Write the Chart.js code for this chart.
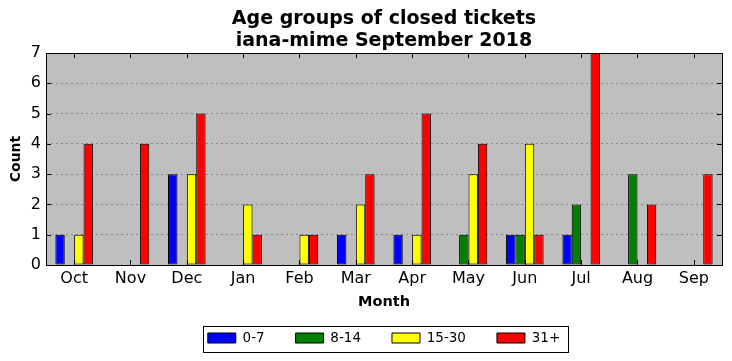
<!DOCTYPE html>
<html>
<head>
<meta charset="utf-8">
<script src="https://cdn.jsdelivr.net/npm/chart.js@4.4.0/dist/chart.umd.min.js"></script>
<style>
  html, body { margin: 0; padding: 0; background: #fff; }
  canvas { display: block; }
</style>
</head>
<body>
<canvas id="ticketChart" width="732" height="361"></canvas>
<script>
(function() {
  'use strict';

  var months = ['Oct', 'Nov', 'Dec', 'Jan', 'Feb', 'Mar', 'Apr', 'May', 'Jun', 'Jul', 'Aug', 'Sep'];
  var ageGroups = ['0-7', '8-14', '15-30', '31+'];
  var groupColours = ['#0000ff', '#008000', '#ffff00', '#ff0000'];

  // closed tickets per month, one list per age group
  var age0to7 = [1, 0, 3, 0, 0, 1, 1, 0, 1, 1, 0, 0];
  var age8to14 = [0, 0, 0, 0, 0, 0, 0, 1, 1, 2, 3, 0];
  var age15to30 = [1, 0, 3, 2, 1, 2, 1, 3, 4, 0, 0, 0];
  var age31plus = [4, 4, 5, 1, 1, 3, 5, 4, 1, 7, 2, 3];
  var countMax = 7;

  var font = 'DejaVu Sans';

  // matplotlib look: grey axes, inward ticks on all sides, boxed legend
  var mplFrame = {
    id: 'mplFrame',
    beforeDraw: function(chart) {
      var ctx = chart.ctx, a = chart.chartArea;
      ctx.save();
      ctx.fillStyle = '#ffffff';
      ctx.fillRect(0, 0, chart.width, chart.height);
      ctx.fillStyle = '#bfbfbf';
      ctx.fillRect(a.left, a.top, a.right - a.left, a.bottom - a.top);
      ctx.restore();
    },
    afterDatasetsDraw: function(chart) {
      var ctx = chart.ctx, a = chart.chartArea;
      var xs = chart.scales.x, ys = chart.scales.y;
      ctx.save();
      ctx.strokeStyle = '#000';
      ctx.lineWidth = 1;
      ctx.beginPath();
      xs.ticks.forEach(function(t, i) {
        var x = Math.round(xs.getPixelForTick(i)) + 0.5;
        ctx.moveTo(x, a.bottom); ctx.lineTo(x, a.bottom - 5);
        ctx.moveTo(x, a.top); ctx.lineTo(x, a.top + 5);
      });
      ys.ticks.forEach(function(t, i) {
        var y = Math.round(ys.getPixelForTick(i)) + 0.5;
        ctx.moveTo(a.left, y); ctx.lineTo(a.left + 5, y);
        ctx.moveTo(a.right, y); ctx.lineTo(a.right - 5, y);
      });
      ctx.stroke();
      ctx.strokeRect(Math.round(a.left) + 0.5, Math.round(a.top) + 0.5,
        Math.round(a.right - a.left), Math.round(a.bottom - a.top));
      ctx.restore();
    },
    afterDraw: function(chart) {
      var boxes = chart.legend.legendHitBoxes;
      if (!boxes || !boxes.length) return;
      var first = boxes[0], last = boxes[boxes.length - 1];
      var mid = first.top + first.height / 2;
      var ctx = chart.ctx;
      ctx.save();
      ctx.strokeStyle = '#000';
      ctx.lineWidth = 1;
      ctx.strokeRect(Math.round(first.left - 5) + 0.5, Math.round(mid - 12) + 0.5,
        Math.round(last.left + last.width + 8 - (first.left - 5)), 26);
      ctx.restore();
    }
  };

  var seriesValues = [age0to7, age8to14, age15to30, age31plus];
  var datasets = ageGroups.map(function(name, i) {
    return {
      label: name,
      data: seriesValues[i],
      backgroundColor: groupColours[i],
      borderColor: '#000000',
      borderWidth: 1,
      borderSkipped: false,
      barPercentage: 1.0,
      categoryPercentage: 0.667
    };
  });

  var ctx = document.getElementById('ticketChart');
  new Chart(ctx, {
    type: 'bar',
    data: { labels: months, datasets: datasets },
    plugins: [mplFrame],
    options: {
      responsive: false,
      animation: false,
      layout: { padding: { left: 4, right: 10, top: 0, bottom: 6.25 } },
      plugins: {
        tooltip: { enabled: false },
        title: {
          display: true,
          fullSize: false,
          text: ['Age groups of closed tickets', 'iana-mime September 2018'],
          color: '#000',
          font: { family: font, size: 19, weight: 'bold', lineHeight: 22 / 19 },
          padding: { top: 8, bottom: 1 }
        },
        legend: {
          display: true,
          position: 'bottom',
          fullSize: false,
          labels: {
            color: '#000',
            font: { family: font, size: 13.5 },
            boxWidth: 28,
            boxHeight: 10,
            padding: 31
          }
        }
      },
      scales: {
        x: {
          grid: { display: false, drawTicks: false },
          border: { display: false },
          ticks: { color: '#000', font: { family: font, size: 16 }, padding: 4 },
          title: {
            display: true,
            text: 'Month',
            color: '#000',
            font: { family: font, size: 14.5, weight: 'bold' },
            padding: { top: 1.6, bottom: -10.95 }
          }
        },
        y: {
          min: 0,
          max: countMax,
          grid: { color: '#888888', borderDash: [2, 3], drawTicks: false },
          border: { display: false, dash: [2, 3] },
          ticks: { stepSize: 1, color: '#000', font: { family: font, size: 16 }, padding: 5 },
          title: {
            display: true,
            text: 'Count',
            color: '#000',
            font: { family: font, size: 14, weight: 'bold' },
            padding: { top: 3.6, bottom: 1.4 }
          }
        }
      }
    }
  });
}());
</script>
</body>
</html>
